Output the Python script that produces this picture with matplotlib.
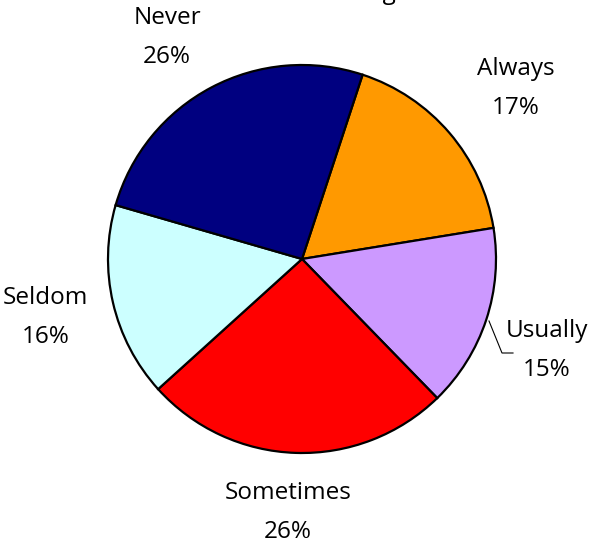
import matplotlib
matplotlib.use("Agg")
import matplotlib.pyplot as plt

# data (clockwise from the top)
categories = ["Always", "Usually", "Sometimes", "Seldom", "Never"]
shares = [17.4, 15.3, 25.6, 16.2, 25.6]
colors = ["#FF9900", "#CC99FF", "#FF0000", "#CCFFFF", "#000080"]
title = "watching TV"

# label centres in pie-radius units (layout only)
label_pos = [(1.103, 0.879), (1.263, -0.472), (-0.072, -1.307),
             (-1.320, -0.302), (-0.696, 1.142)]

W, H = 608, 543
fig = plt.figure(figsize=(W / 100, H / 100), dpi=100)
fig.patch.set_facecolor("white")

# pie centre (302, 259) px, radius 194 px
cx, cy, r = 302, 259, 194
ax = fig.add_axes([(cx - r) / W, (H - cy - r) / H, 2 * r / W, 2 * r / H])
ax.pie(shares, colors=colors, startangle=71.8, counterclock=False,
       radius=1.0, wedgeprops=dict(edgecolor="black", linewidth=1.6))
ax.set_xlim(-1, 1)
ax.set_ylim(-1, 1)
ax.set_aspect("equal")
ax.axis("off")

font = "Open Sans"
fs = 17.5
half = 19.5 * 72 / 100  # half line gap in points
total = sum(shares)
for name, v, (x, y) in zip(categories, shares, label_pos):
    ax.annotate(name, (x, y), xytext=(0, half), textcoords="offset points",
                ha="center", va="center", fontsize=fs, family=font,
                annotation_clip=False)
    ax.annotate("%.0f%%" % (100 * v / total), (x, y), xytext=(0, -half),
                textcoords="offset points", ha="center", va="center",
                fontsize=fs, family=font, annotation_clip=False)

# leader line for "Usually"
lx = [(489 - cx) / r, (502 - cx) / r, (513 - cx) / r]
ly = [(cy - 321) / r, (cy - 353) / r, (cy - 353) / r]
ax.plot(lx, ly, color="black", linewidth=0.8, clip_on=False)

# title is cut off at the top of the image
fig.text(362 / W, 1 + 1 / H, title, ha="center", va="baseline",
         fontsize=fs, family=font)

fig.savefig("out.png", dpi=100, facecolor="white")
